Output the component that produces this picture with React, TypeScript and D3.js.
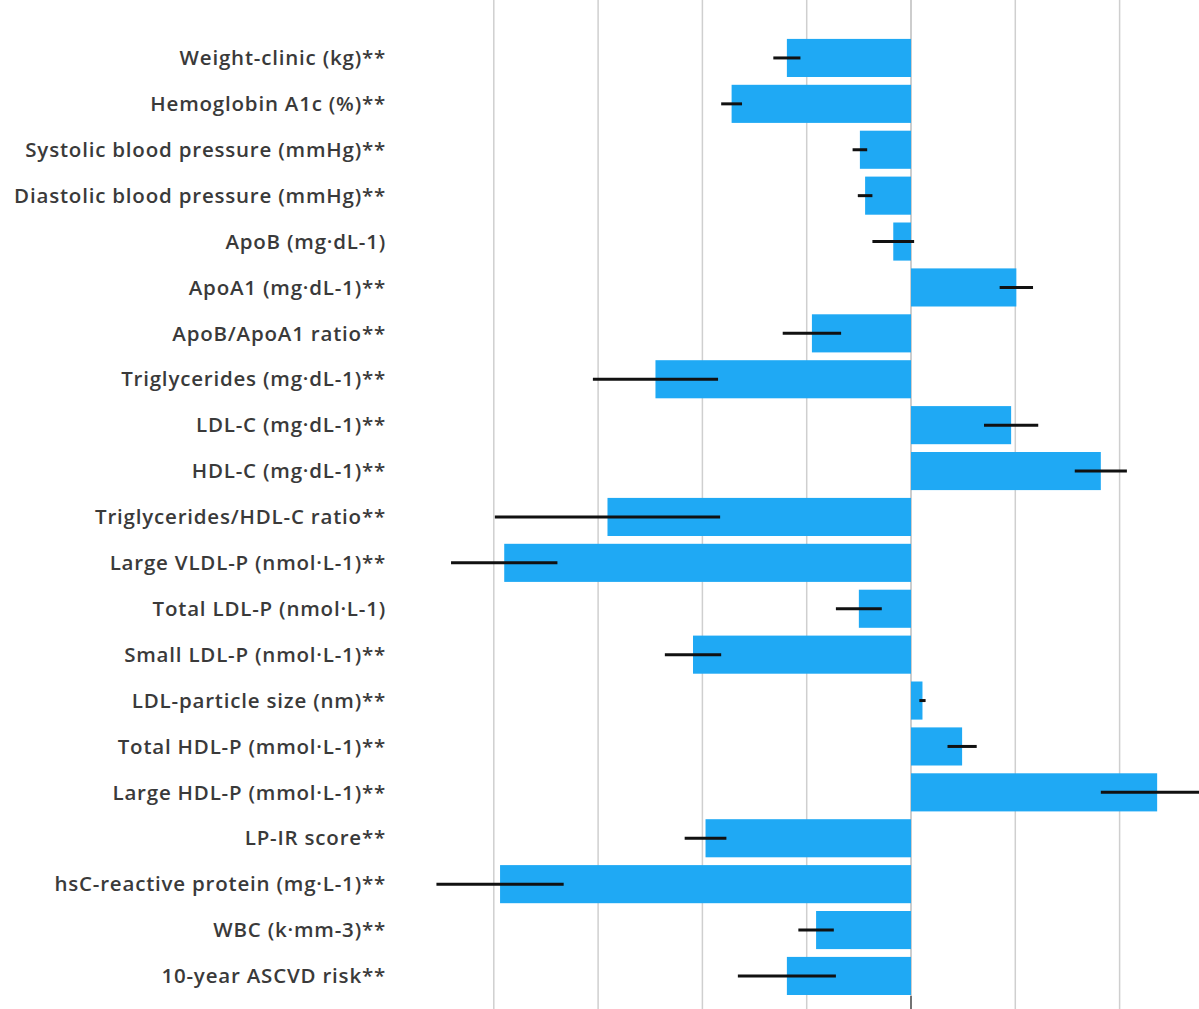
import React from "react";
import * as d3 from "d3";

const categories: string[] = [
  "Weight-clinic (kg)**",
  "Hemoglobin A1c (%)**",
  "Systolic blood pressure (mmHg)**",
  "Diastolic blood pressure (mmHg)**",
  "ApoB (mg·dL-1)",
  "ApoA1 (mg·dL-1)**",
  "ApoB/ApoA1 ratio**",
  "Triglycerides (mg·dL-1)**",
  "LDL-C (mg·dL-1)**",
  "HDL-C (mg·dL-1)**",
  "Triglycerides/HDL-C ratio**",
  "Large VLDL-P (nmol·L-1)**",
  "Total LDL-P (nmol·L-1)",
  "Small LDL-P (nmol·L-1)**",
  "LDL-particle size (nm)**",
  "Total HDL-P (mmol·L-1)**",
  "Large HDL-P (mmol·L-1)**",
  "LP-IR score**",
  "hsC-reactive protein (mg·L-1)**",
  "WBC (k·mm-3)**",
  "10-year ASCVD risk**",
];

const values: number[] = [
  -1.19, -1.72, -0.49, -0.44, -0.17, 1.01, -0.95, -2.45, 0.96, 1.82, -2.91,
  -3.9, -0.5, -2.09, 0.11, 0.49, 2.36, -1.97, -3.94, -0.91, -1.19,
];

const errors: number[] = [
  0.13, 0.1, 0.07, 0.07, 0.2, 0.16, 0.28, 0.6, 0.26, 0.25, 1.08, 0.51, 0.22,
  0.27, 0.03, 0.14, 0.54, 0.2, 0.61, 0.17, 0.47,
];

const gridTicks: number[] = [-4, -3, -2, -1, 0, 1, 2];

export default function App() {
  const W = 1199;
  const H = 1009;
  // zero at ~911, 1 unit ~104.3px
  const x = d3.scaleLinear().domain([0, 1]).range([911, 1015.3]);
  const y = d3
    .scaleBand<string>()
    .domain(categories)
    .range([35, 35 + 45.9 * categories.length])
    .paddingInner(0.17)
    .paddingOuter(0.085);
  const barColor = "#1fa9f4";
  return (
    <svg
      width={W}
      height={H}
      style={{ position: "absolute", left: 0, top: 0, display: "block", background: "#fff" }}
      fontFamily="'Open Sans', 'Noto Sans', sans-serif"
    >
      <rect x={0} y={0} width={W} height={H} fill="#fff" />
      {gridTicks.map((t) => (
        <line
          key={t}
          x1={x(t)}
          x2={x(t)}
          y1={0}
          y2={H}
          stroke={t === 0 ? "#bdbdbd" : "#cfcfcf"}
          strokeWidth={1.5}
        />
      ))}
      <line x1={x(0)} x2={x(0)} y1={996} y2={H} stroke="#555" strokeWidth={1.5} />
      {categories.map((c, i) => {
        const v = values[i];
        const e = errors[i];
        const y0 = y(c)!;
        const bh = y.bandwidth();
        const cy = y0 + bh / 2;
        return (
          <g key={c}>
            <rect
              x={Math.min(x(0), x(v))}
              y={y0}
              width={Math.abs(x(v) - x(0))}
              height={bh}
              fill={barColor}
            />
            <line
              x1={x(v - e)}
              x2={x(v + e)}
              y1={cy}
              y2={cy}
              stroke="#111"
              strokeWidth={3}
            />
            <text
              x={386}
              y={cy}
              dy="0.35em"
              textAnchor="end"
              fontSize={20.5}
              fontWeight={600}
              letterSpacing={0.8}
              fill="#3a3a3a"
            >
              {c}
            </text>
          </g>
        );
      })}
    </svg>
  );
}
